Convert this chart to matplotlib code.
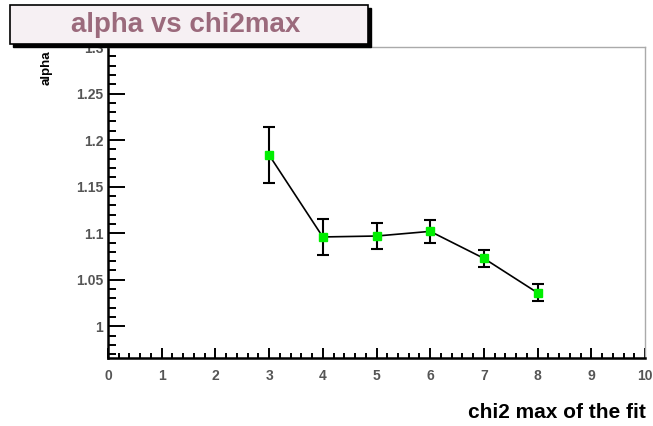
import matplotlib
matplotlib.use("Agg")
import matplotlib.pyplot as plt
from matplotlib.patches import Rectangle
from matplotlib.ticker import MultipleLocator

# data
chi2max = [3, 4, 5, 6, 7, 8]
alpha = [1.184, 1.096, 1.097, 1.102, 1.073, 1.036]
alpha_err = [0.030, 0.019, 0.014, 0.012, 0.009, 0.009]

plt.rcParams['font.family'] = ['Liberation Sans', 'DejaVu Sans']

W, H = 653, 426
fig = plt.figure(figsize=(W / 100, H / 100), dpi=100)
ax = fig.add_axes([108 / W, 1 - 358 / H, (645 - 108) / W, (358 - 47) / H])

ax.errorbar(chi2max, alpha, yerr=alpha_err, fmt='none', ecolor='black',
            elinewidth=1.5, capsize=4, capthick=1.5, zorder=2)
ax.plot(chi2max, alpha, color='black', lw=1.2, zorder=3)
ax.plot(chi2max, alpha, 's', color='#00ee00', ms=6, mec='#00ee00', zorder=4)

ax.set_xlim(0, 10)
ax.set_ylim(0.966, 1.3)
ax.xaxis.set_major_locator(MultipleLocator(1))
ax.xaxis.set_minor_locator(MultipleLocator(0.2))
ax.yaxis.set_minor_locator(MultipleLocator(0.01))
ax.set_yticks([1, 1.05, 1.1, 1.15, 1.2, 1.25, 1.3])
ax.set_yticklabels(['1', '1.05', '1.1', '1.15', '1.2', '1.25', '1.3'])

ax.tick_params(which='both', direction='in', top=False, right=False,
               labelsize=10, labelcolor='#555555', width=1.4)
ax.tick_params(axis='y', which='major', length=12)
ax.tick_params(axis='y', which='minor', length=6)
ax.tick_params(axis='x', which='major', length=7, pad=8)
ax.tick_params(axis='x', which='minor', length=3.5)
for lab in ax.get_xticklabels() + ax.get_yticklabels():
    lab.set_fontweight('bold')

for side in ['left', 'bottom']:
    ax.spines[side].set_linewidth(1.8)
for side in ['top', 'right']:
    ax.spines[side].set_color('#aaaaaa')
    ax.spines[side].set_linewidth(1.0)

fig.text(646 / W, 1 - 413 / H, 'chi2 max of the fit', ha='right', va='center',
         fontsize=15, fontweight='bold')
fig.text(47 / W, 1 - 68 / H, 'alpha', ha='center', va='center', rotation=90,
         fontsize=9.5, fontweight='bold')

# title box with shadow
fig.patches.append(Rectangle((13 / W, 1 - 47 / H), 358 / W, 39 / H,
                             transform=fig.transFigure, facecolor='black',
                             edgecolor='black', zorder=5))
fig.patches.append(Rectangle((10 / W, 1 - 44 / H), 358 / W, 39 / H,
                             transform=fig.transFigure, facecolor='#f6f0f3',
                             edgecolor='black', lw=1.2, zorder=6))
fig.text(186 / W, 1 - 25 / H, 'alpha vs chi2max', ha='center', va='center',
         fontsize=20, fontweight='bold', color='#9b6a7c', zorder=7)

fig.savefig('out.png', dpi=100)
